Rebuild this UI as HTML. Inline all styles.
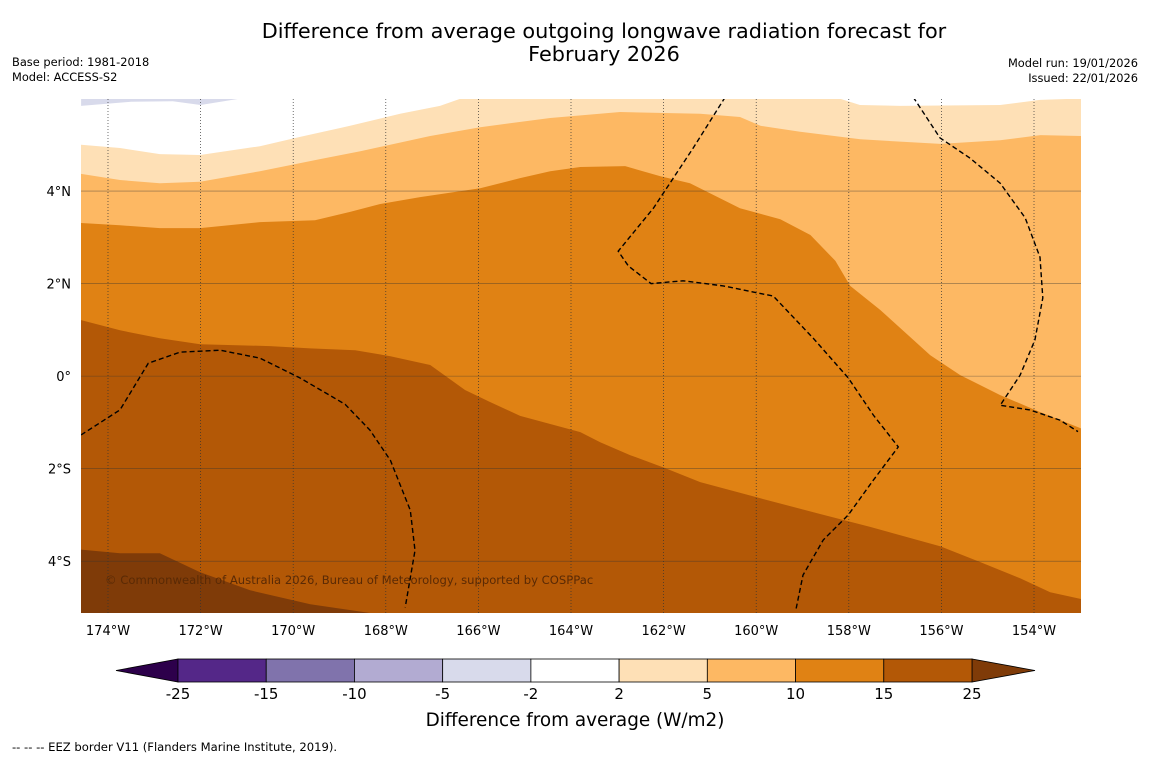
<!DOCTYPE html>
<html><head><meta charset="utf-8"><style>
body{margin:0;background:#fff;font-family:"Liberation Sans","DejaVu Sans",sans-serif;}
svg text{font-family:"DejaVu Sans","Liberation Sans",sans-serif;}
</style></head><body>
<svg id="chart" width="1150" height="758" viewBox="0 0 1150 758" xmlns="http://www.w3.org/2000/svg">
<text x="604" y="38" font-size="20.8" text-anchor="middle">Difference from average outgoing longwave radiation forecast for</text>
<text x="604" y="61" font-size="20.8" text-anchor="middle">February 2026</text>
<text x="12" y="66" font-size="11.4">Base period: 1981-2018</text>
<text x="12" y="81" font-size="11.4">Model: ACCESS-S2</text>
<text x="1138" y="67" font-size="11.4" text-anchor="end">Model run: 19/01/2026</text>
<text x="1138" y="82" font-size="11.4" text-anchor="end">Issued: 22/01/2026</text>
<defs><clipPath id="mapclip"><rect x="81" y="99" width="1000" height="514"/></clipPath></defs>
<g id="map" clip-path="url(#mapclip)"></g>
<g id="axes"></g>
<g id="cbar"></g>
<text x="12" y="751" font-size="11.6">--  --  -- EEZ border V11 (Flanders Marine Institute, 2019).</text>
</svg>
<script>
// Map extent
const lonMin=-174.583, lonMax=-152.985, latMin=-5.12, latMax=5.99;
const lonTicks=[-174,-172,-170,-168,-166,-164,-162,-160,-158,-156,-154];
const lonLabels=["174°W","172°W","170°W","168°W","166°W","164°W","162°W","160°W","158°W","156°W","154°W"];
const latTicks=[4,2,0,-2,-4];
const latLabels=["4°N","2°N","0°","2°S","4°S"];
// contour boundaries as [lon,lat]
const bWhite=[[-174.58,5.0],[-173.74,4.93],[-172.88,4.8],[-172.01,4.78],[-170.72,4.97],[-169.85,5.17],[-168.77,5.41],[-167.69,5.67],[-166.83,5.84],[-166.29,6.03]];
const bWhiteRight=[[-158.30,6.03],[-157.76,5.86],[-156.89,5.84],[-154.73,5.86],[-153.87,5.97],[-152.98,6.0]];
const b5=[[-174.58,4.37],[-173.74,4.24],[-172.88,4.17],[-172.01,4.2],[-170.72,4.43],[-169.42,4.69],[-168.55,4.86],[-167.04,5.19],[-165.96,5.38],[-164.45,5.58],[-162.94,5.71],[-161.21,5.67],[-160.35,5.6],[-159.91,5.41],[-159.05,5.28],[-157.75,5.12],[-156.02,5.02],[-154.73,5.1],[-153.86,5.21],[-152.98,5.19]];
const b10=[[-174.58,3.31],[-173.74,3.26],[-172.88,3.2],[-172.01,3.2],[-170.72,3.33],[-169.53,3.37],[-168.77,3.55],[-168.12,3.72],[-167.26,3.87],[-165.96,4.06],[-165.1,4.28],[-164.45,4.43],[-163.8,4.52],[-162.83,4.54],[-162.07,4.32],[-161.43,4.17],[-160.35,3.63],[-159.48,3.39],[-158.83,3.05],[-158.29,2.49],[-157.97,1.95],[-157.32,1.43],[-156.89,1.04],[-156.24,0.45],[-155.59,0.02],[-154.73,-0.41],[-153.86,-0.78],[-152.98,-1.13]];
const b15=[[-174.58,1.21],[-173.74,0.99],[-172.88,0.82],[-172.01,0.69],[-170.5,0.65],[-169.63,0.6],[-168.66,0.56],[-167.9,0.43],[-167.04,0.24],[-166.29,-0.3],[-165.75,-0.56],[-165.1,-0.86],[-163.8,-1.21],[-163.37,-1.43],[-162.72,-1.71],[-161.96,-1.99],[-161.21,-2.29],[-159.91,-2.64],[-158.62,-2.98],[-157.54,-3.26],[-156.02,-3.68],[-155.16,-4.02],[-154.3,-4.37],[-153.65,-4.67],[-152.98,-4.82]];
const b25=[[-174.58,-3.75],[-173.74,-3.83],[-172.88,-3.83],[-172.01,-4.24],[-170.93,-4.63],[-169.63,-4.93],[-168.34,-5.12]];
// EEZ borders
const eezA=[[-174.58,-1.27],[-173.74,-0.73],[-173.13,0.28],[-172.44,0.52],[-171.58,0.56],[-170.72,0.39],[-169.85,-0.04],[-168.88,-0.61],[-168.34,-1.17],[-167.9,-1.82],[-167.47,-2.9],[-167.37,-3.77],[-167.58,-5.0]];
const eezB=[[-160.67,6.03],[-161.36,4.93],[-162.22,3.63],[-162.98,2.7],[-162.76,2.38],[-162.27,2.0],[-161.58,2.06],[-160.71,1.95],[-159.63,1.73],[-158.77,0.82],[-158.01,-0.04],[-157.47,-0.84],[-156.93,-1.53],[-157.47,-2.25],[-158.01,-3.0],[-158.55,-3.54],[-158.99,-4.3],[-159.14,-5.04]];
const eezC=[[-156.61,6.03],[-156.03,5.15],[-155.38,4.71],[-154.73,4.17],[-154.19,3.42],[-153.87,2.57],[-153.81,1.69],[-153.98,0.78],[-154.30,0.02],[-154.73,-0.63],[-154.09,-0.73],[-153.44,-0.95],[-153.05,-1.2]];
const cbBounds=["-25","-15","-10","-5","-2","2","5","10","15","25"];
const cbColors=["#542788","#8073ac","#b2abd2","#d8daeb","#ffffff","#fee0b6","#fdb863","#e08214","#b35806"];

const X0=81,X1=1081,Y0=99,Y1=613;
const xs=lon=>X0+(lon-lonMin)/(lonMax-lonMin)*(X1-X0);
const ys=lat=>Y0+(latMax-lat)/(latMax-latMin)*(Y1-Y0);
const NS="http://www.w3.org/2000/svg";
function mk(tag,attrs,parent){const e=document.createElementNS(NS,tag);for(const k in attrs)e.setAttribute(k,attrs[k]);parent.appendChild(e);return e;}
const pts=a=>a.map(p=>xs(p[0]).toFixed(1)+","+ys(p[1]).toFixed(1)).join(" ");
const map=document.getElementById('map');
let r=mk('rect',{x:X0,y:Y0,width:1000,height:514,fill:'#7f3b08'},map);


function band(line,color,name){
  const top=[[lonMax+1,latMax+1],[lonMin-1,latMax+1]];
  const p=mk('polygon',{points:pts([[lonMin-1,line[0][1]],...line,[lonMax+1,line[line.length-1][1]],...top]),fill:color},map);
  
  
}
band(b25,'#b35806','band-15-25');
band(b15,'#e08214','band-10-15');
band(b10,'#fdb863','band-5-10');
band(b5,'#fee0b6','band-2-5');
band(bWhite,'#ffffff','band-neutral-left');
let wr=mk('polygon',{points:pts([[bWhiteRight[0][0],latMax+1],...bWhiteRight,[lonMax+1,6.0],[lonMax+1,latMax+1]]),fill:'#ffffff'},map);


let lav=mk('polygon',{points:pts([[-174.58,5.84],[-173.5,5.93],[-172.6,5.94],[-172.0,5.86],[-171.2,5.99],[-174.58,5.99]]),fill:'#d8daeb'},map);


// gridlines
lonTicks.forEach(l=>{const g=mk('line',{x1:xs(l),x2:xs(l),y1:Y0,y2:Y1,stroke:'#333','stroke-width':0.7,'stroke-dasharray':'1,2'},map);

});
latTicks.forEach(l=>{const g=mk('line',{x1:X0,x2:X1,y1:ys(l),y2:ys(l),stroke:'#333','stroke-width':0.6,opacity:0.6},map);

});
[eezA,eezB,eezC].forEach(a=>{const e=mk('polyline',{points:pts(a),fill:'none',stroke:'#000','stroke-width':1.4,'stroke-dasharray':'5,3'},map);

});
let cp=mk('text',{x:105,y:584,'font-size':11.6,fill:'#5a2a05'},map);
cp.textContent='© Commonwealth of Australia 2026, Bureau of Meteorology, supported by COSPPac';


const axes=document.getElementById('axes');
lonTicks.forEach((l,i)=>{const t=mk('text',{x:xs(l),y:635,'font-size':13,'text-anchor':'middle'},axes);t.textContent=lonLabels[i];

});
latTicks.forEach((l,i)=>{const t=mk('text',{x:71,y:ys(l)+5,'font-size':13,'text-anchor':'end'},axes);t.textContent=latLabels[i];

});
// colorbar
const cb=document.getElementById('cbar');
const cx0=178,cx1=972,cy=659,ch=23,w=(cx1-cx0)/cbColors.length;
let tl=mk('polygon',{points:`116,670.5 ${cx0},${cy} ${cx0},${cy+ch}`,fill:'#2d004b',stroke:'#000','stroke-width':0.8},cb);


let tr=mk('polygon',{points:`1035,670.5 ${cx1},${cy} ${cx1},${cy+ch}`,fill:'#7f3b08',stroke:'#000','stroke-width':0.8},cb);


cbColors.forEach((c,i)=>{const b=mk('rect',{x:cx0+i*w,y:cy,width:w,height:ch,fill:c,stroke:'#000','stroke-width':0.8},cb);

});
cbBounds.forEach((s,i)=>{const t=mk('text',{x:cx0+i*w,y:699,'font-size':15,'text-anchor':'middle'},cb);t.textContent=s;

});
let ct=mk('text',{x:575,y:726,'font-size':18.4,'text-anchor':'middle'},cb);ct.textContent='Difference from average (W/m2)';


</script>
</body></html>
